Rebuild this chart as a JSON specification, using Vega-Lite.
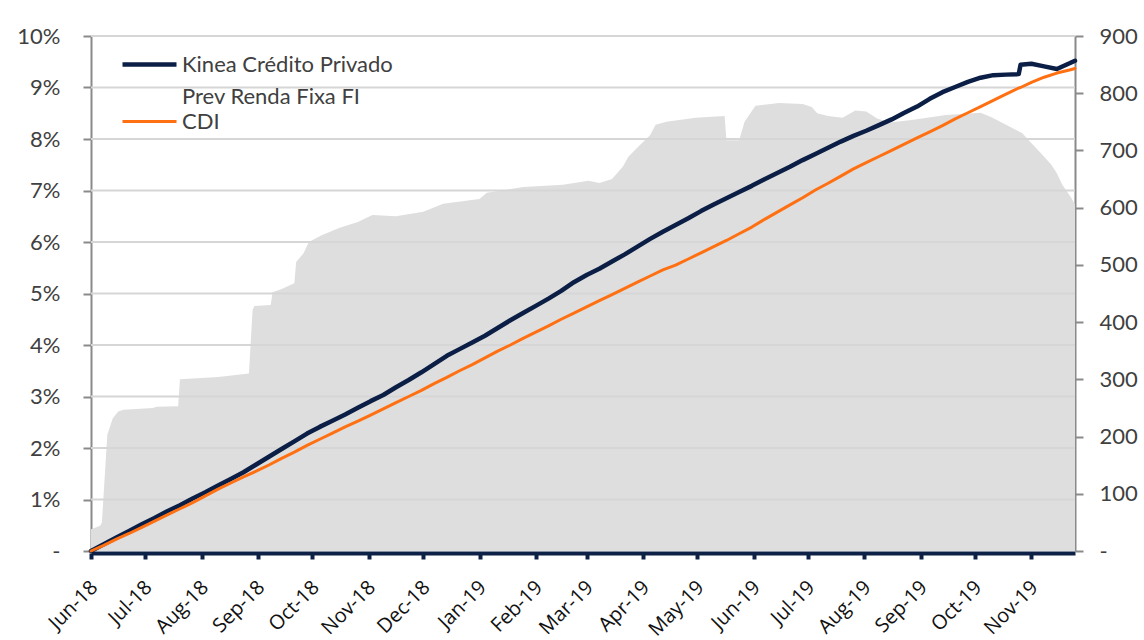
{
  "$schema": "https://vega.github.io/schema/vega-lite/v6.json",
  "width": 984,
  "height": 515,
  "autosize": {"type": "none"},
  "padding": {"left": 91, "top": 36, "right": 69, "bottom": 89},
  "background": "white",
  "config": {
    "view": {"stroke": null},
    "font": "Lato",
    "style": {"guide-label": {"lineHeight": 32}},
    "axisX": {
      "title": null,
      "format": "%b-%y",
      "tickCount": {"interval": "month", "step": 1},
      "labelAngle": -45,
      "labelAlign": "right",
      "labelBaseline": "middle",
      "labelFont": "Open Sans",
      "labelFontSize": 20,
      "labelColor": "#111111",
      "labelPadding": 25,
      "labelOffset": 3,
      "labelOverlap": false,
      "labelBound": false,
      "labelFlush": false,
      "domainColor": "#0c2145",
      "domainWidth": 4,
      "tickColor": "#0c2145",
      "tickWidth": 4,
      "tickSize": 6,
      "offset": 2,
      "grid": false,
      "zindex": 1
    },
    "axisY": {
      "title": null,
      "labelFont": "Lato",
      "labelFontSize": 22,
      "labelColor": "#404040",
      "domainColor": "#8a8a8a",
      "domainWidth": 2,
      "tickColor": "#8a8a8a",
      "tickWidth": 2,
      "tickSize": 8,
      "grid": false,
      "zindex": 1
    },
    "legend": {
      "orient": "none",
      "legendX": 29,
      "legendY": 16,
      "title": null,
      "padding": 0,
      "symbolType": "M-1,0H4.4",
      "symbolSize": 400,
      "labelFont": "Lato",
      "labelFontSize": 22,
      "labelColor": "#404040",
      "labelOffset": 37,
      "labelLimit": 500,
      "rowPadding": 2
    }
  },
  "datasets": {
    "pl": [
      {"date": "2018-06-01", "pl": 38},
      {"date": "2018-06-06", "pl": 44},
      {"date": "2018-06-07", "pl": 50},
      {"date": "2018-06-10", "pl": 203},
      {"date": "2018-06-13", "pl": 232},
      {"date": "2018-06-16", "pl": 244},
      {"date": "2018-06-19", "pl": 247},
      {"date": "2018-07-05", "pl": 250},
      {"date": "2018-07-07", "pl": 252},
      {"date": "2018-07-19", "pl": 253},
      {"date": "2018-07-20", "pl": 300},
      {"date": "2018-08-10", "pl": 304},
      {"date": "2018-08-27", "pl": 310},
      {"date": "2018-08-29", "pl": 421},
      {"date": "2018-08-30", "pl": 428},
      {"date": "2018-09-08", "pl": 430},
      {"date": "2018-09-09", "pl": 452},
      {"date": "2018-09-14", "pl": 458},
      {"date": "2018-09-21", "pl": 468},
      {"date": "2018-09-22", "pl": 505},
      {"date": "2018-09-26", "pl": 520},
      {"date": "2018-09-29", "pl": 540},
      {"date": "2018-10-06", "pl": 552},
      {"date": "2018-10-16", "pl": 565},
      {"date": "2018-10-26", "pl": 575},
      {"date": "2018-11-03", "pl": 587},
      {"date": "2018-11-16", "pl": 585},
      {"date": "2018-12-01", "pl": 593},
      {"date": "2018-12-12", "pl": 607},
      {"date": "2019-01-01", "pl": 615},
      {"date": "2019-01-05", "pl": 626},
      {"date": "2019-01-25", "pl": 636},
      {"date": "2019-02-16", "pl": 640},
      {"date": "2019-03-02", "pl": 647},
      {"date": "2019-03-08", "pl": 643},
      {"date": "2019-03-15", "pl": 650},
      {"date": "2019-03-21", "pl": 672},
      {"date": "2019-03-24", "pl": 689},
      {"date": "2019-03-29", "pl": 705},
      {"date": "2019-04-05", "pl": 727},
      {"date": "2019-04-08", "pl": 745},
      {"date": "2019-04-14", "pl": 750},
      {"date": "2019-04-30", "pl": 757},
      {"date": "2019-05-16", "pl": 760},
      {"date": "2019-05-17", "pl": 718},
      {"date": "2019-05-24", "pl": 718},
      {"date": "2019-05-27", "pl": 750},
      {"date": "2019-06-02", "pl": 778},
      {"date": "2019-06-15", "pl": 783},
      {"date": "2019-06-28", "pl": 781},
      {"date": "2019-07-03", "pl": 776},
      {"date": "2019-07-06", "pl": 765},
      {"date": "2019-07-12", "pl": 760},
      {"date": "2019-07-20", "pl": 757},
      {"date": "2019-07-27", "pl": 770},
      {"date": "2019-08-02", "pl": 768},
      {"date": "2019-08-08", "pl": 756},
      {"date": "2019-08-15", "pl": 749},
      {"date": "2019-08-27", "pl": 753},
      {"date": "2019-09-15", "pl": 762},
      {"date": "2019-10-04", "pl": 766},
      {"date": "2019-10-10", "pl": 758},
      {"date": "2019-10-18", "pl": 745},
      {"date": "2019-10-27", "pl": 730},
      {"date": "2019-10-31", "pl": 716},
      {"date": "2019-11-06", "pl": 696},
      {"date": "2019-11-12", "pl": 675},
      {"date": "2019-11-15", "pl": 660},
      {"date": "2019-11-18", "pl": 640},
      {"date": "2019-11-23", "pl": 617},
      {"date": "2019-11-25", "pl": 605}
    ],
    "grid": [
      {"g": 1}, {"g": 2}, {"g": 3}, {"g": 4}, {"g": 5},
      {"g": 6}, {"g": 7}, {"g": 8}, {"g": 9}, {"g": 10}
    ],
    "ret": [
      {"date": "2018-06-01", "kinea": 0.00, "cdi": 0.00},
      {"date": "2018-06-08", "kinea": 0.13, "cdi": 0.11},
      {"date": "2018-06-15", "kinea": 0.26, "cdi": 0.23},
      {"date": "2018-06-22", "kinea": 0.39, "cdi": 0.34},
      {"date": "2018-06-29", "kinea": 0.52, "cdi": 0.46},
      {"date": "2018-07-06", "kinea": 0.64, "cdi": 0.58},
      {"date": "2018-07-13", "kinea": 0.77, "cdi": 0.70},
      {"date": "2018-07-20", "kinea": 0.89, "cdi": 0.82},
      {"date": "2018-07-27", "kinea": 1.02, "cdi": 0.94},
      {"date": "2018-08-03", "kinea": 1.14, "cdi": 1.07},
      {"date": "2018-08-10", "kinea": 1.27, "cdi": 1.20},
      {"date": "2018-08-17", "kinea": 1.40, "cdi": 1.32},
      {"date": "2018-08-24", "kinea": 1.53, "cdi": 1.44},
      {"date": "2018-08-31", "kinea": 1.68, "cdi": 1.55},
      {"date": "2018-09-07", "kinea": 1.83, "cdi": 1.67},
      {"date": "2018-09-14", "kinea": 1.98, "cdi": 1.80},
      {"date": "2018-09-21", "kinea": 2.13, "cdi": 1.92},
      {"date": "2018-09-28", "kinea": 2.28, "cdi": 2.05},
      {"date": "2018-10-05", "kinea": 2.41, "cdi": 2.17},
      {"date": "2018-10-12", "kinea": 2.53, "cdi": 2.29},
      {"date": "2018-10-19", "kinea": 2.65, "cdi": 2.41},
      {"date": "2018-10-26", "kinea": 2.78, "cdi": 2.52},
      {"date": "2018-11-02", "kinea": 2.91, "cdi": 2.64},
      {"date": "2018-11-09", "kinea": 3.03, "cdi": 2.76},
      {"date": "2018-11-16", "kinea": 3.18, "cdi": 2.88},
      {"date": "2018-11-23", "kinea": 3.32, "cdi": 3.00},
      {"date": "2018-11-30", "kinea": 3.47, "cdi": 3.12},
      {"date": "2018-12-07", "kinea": 3.63, "cdi": 3.25},
      {"date": "2018-12-14", "kinea": 3.79, "cdi": 3.37},
      {"date": "2018-12-21", "kinea": 3.92, "cdi": 3.50},
      {"date": "2018-12-28", "kinea": 4.05, "cdi": 3.62},
      {"date": "2019-01-04", "kinea": 4.18, "cdi": 3.75},
      {"date": "2019-01-11", "kinea": 4.33, "cdi": 3.88},
      {"date": "2019-01-18", "kinea": 4.48, "cdi": 4.00},
      {"date": "2019-01-25", "kinea": 4.62, "cdi": 4.13},
      {"date": "2019-02-01", "kinea": 4.76, "cdi": 4.25},
      {"date": "2019-02-08", "kinea": 4.90, "cdi": 4.37},
      {"date": "2019-02-15", "kinea": 5.05, "cdi": 4.50},
      {"date": "2019-02-22", "kinea": 5.22, "cdi": 4.62},
      {"date": "2019-03-01", "kinea": 5.36, "cdi": 4.74},
      {"date": "2019-03-08", "kinea": 5.48, "cdi": 4.86},
      {"date": "2019-03-15", "kinea": 5.62, "cdi": 4.98},
      {"date": "2019-03-22", "kinea": 5.76, "cdi": 5.10},
      {"date": "2019-03-29", "kinea": 5.91, "cdi": 5.22},
      {"date": "2019-04-05", "kinea": 6.06, "cdi": 5.34},
      {"date": "2019-04-12", "kinea": 6.20, "cdi": 5.46},
      {"date": "2019-04-19", "kinea": 6.33, "cdi": 5.55},
      {"date": "2019-04-26", "kinea": 6.46, "cdi": 5.67},
      {"date": "2019-05-03", "kinea": 6.60, "cdi": 5.79},
      {"date": "2019-05-10", "kinea": 6.73, "cdi": 5.91},
      {"date": "2019-05-17", "kinea": 6.85, "cdi": 6.03},
      {"date": "2019-05-24", "kinea": 6.97, "cdi": 6.16},
      {"date": "2019-05-31", "kinea": 7.09, "cdi": 6.29},
      {"date": "2019-06-07", "kinea": 7.22, "cdi": 6.44},
      {"date": "2019-06-14", "kinea": 7.34, "cdi": 6.58},
      {"date": "2019-06-21", "kinea": 7.46, "cdi": 6.72},
      {"date": "2019-06-28", "kinea": 7.59, "cdi": 6.86},
      {"date": "2019-07-05", "kinea": 7.71, "cdi": 7.01},
      {"date": "2019-07-12", "kinea": 7.83, "cdi": 7.14},
      {"date": "2019-07-19", "kinea": 7.95, "cdi": 7.28},
      {"date": "2019-07-26", "kinea": 8.06, "cdi": 7.42},
      {"date": "2019-08-02", "kinea": 8.16, "cdi": 7.54},
      {"date": "2019-08-09", "kinea": 8.27, "cdi": 7.66},
      {"date": "2019-08-16", "kinea": 8.38, "cdi": 7.78},
      {"date": "2019-08-23", "kinea": 8.51, "cdi": 7.90},
      {"date": "2019-08-30", "kinea": 8.63, "cdi": 8.02},
      {"date": "2019-09-06", "kinea": 8.78, "cdi": 8.14},
      {"date": "2019-09-13", "kinea": 8.91, "cdi": 8.26},
      {"date": "2019-09-20", "kinea": 9.01, "cdi": 8.39},
      {"date": "2019-09-27", "kinea": 9.11, "cdi": 8.51},
      {"date": "2019-10-04", "kinea": 9.19, "cdi": 8.63},
      {"date": "2019-10-11", "kinea": 9.24, "cdi": 8.75},
      {"date": "2019-10-18", "kinea": 9.25, "cdi": 8.87},
      {"date": "2019-10-25", "kinea": 9.26, "cdi": 8.99},
      {"date": "2019-10-26", "kinea": 9.44, "cdi": 9.00},
      {"date": "2019-11-01", "kinea": 9.46, "cdi": 9.10},
      {"date": "2019-11-08", "kinea": 9.41, "cdi": 9.20},
      {"date": "2019-11-15", "kinea": 9.36, "cdi": 9.28},
      {"date": "2019-11-22", "kinea": 9.47, "cdi": 9.34},
      {"date": "2019-11-25", "kinea": 9.52, "cdi": 9.37}
    ]
  },
  "layer": [
    {
      "data": {"name": "pl"},
      "mark": {"type": "area", "color": "#dedede", "interpolate": "linear"},
      "encoding": {
        "x": {
          "field": "date",
          "type": "temporal",
          "scale": {"domain": ["2018-06-01", "2019-11-25"], "nice": false},
          "axis": {"orient": "bottom"}
        },
        "y": {
          "field": "pl",
          "type": "quantitative",
          "scale": {"domain": [0, 900], "nice": false},
          "axis": {
            "orient": "right",
            "values": [0, 100, 200, 300, 400, 500, 600, 700, 800, 900],
            "labelExpr": "datum.value == 0 ? '-' : datum.label",
            "labelPadding": 16
          }
        }
      }
    },
    {
      "layer": [
        {
          "data": {"name": "grid"},
          "mark": {"type": "rule", "color": "#d6d6d6", "strokeWidth": 2},
          "encoding": {
            "y": {
              "field": "g",
              "type": "quantitative",
              "scale": {"domain": [0, 10], "nice": false},
              "axis": {
                "orient": "left",
                "values": [0, 1, 2, 3, 4, 5, 6, 7, 8, 9, 10],
                "labelExpr": "datum.value == 0 ? '-' : datum.value + '%'",
                "labelPadding": 23
              }
            }
          }
        },
        {
          "data": {"name": "ret"},
          "mark": {"type": "line", "strokeJoin": "round", "strokeCap": "round"},
          "encoding": {
            "x": {"field": "date", "type": "temporal", "axis": {"orient": "bottom"}},
            "y": {
              "field": "kinea",
              "type": "quantitative",
              "axis": {
                "orient": "left",
                "values": [0, 1, 2, 3, 4, 5, 6, 7, 8, 9, 10],
                "labelExpr": "datum.value == 0 ? '-' : datum.value + '%'",
                "labelPadding": 23
              }
            },
            "color": {
              "datum": "Kinea",
              "type": "nominal",
              "scale": {"domain": ["Kinea", "CDI"], "range": ["#0b1e45", "#ff7012"]},
              "legend": {
                "labelExpr": "datum.value == 'Kinea' ? ['Kinea Crédito Privado', 'Prev Renda Fixa FI'] : 'CDI'"
              }
            },
            "strokeWidth": {
              "datum": "Kinea",
              "type": "nominal",
              "scale": {"domain": ["Kinea", "CDI"], "range": [4.5, 3]},
              "legend": {
                "labelExpr": "datum.value == 'Kinea' ? ['Kinea Crédito Privado', 'Prev Renda Fixa FI'] : 'CDI'"
              }
            }
          }
        },
        {
          "data": {"name": "ret"},
          "mark": {"type": "line", "strokeJoin": "round", "strokeCap": "round"},
          "encoding": {
            "x": {"field": "date", "type": "temporal", "axis": {"orient": "bottom"}},
            "y": {
              "field": "cdi",
              "type": "quantitative",
              "axis": {
                "orient": "left",
                "values": [0, 1, 2, 3, 4, 5, 6, 7, 8, 9, 10],
                "labelExpr": "datum.value == 0 ? '-' : datum.value + '%'",
                "labelPadding": 23
              }
            },
            "color": {"datum": "CDI", "type": "nominal"},
            "strokeWidth": {"datum": "CDI", "type": "nominal"}
          }
        }
      ]
    }
  ],
  "resolve": {"scale": {"y": "independent"}}
}
